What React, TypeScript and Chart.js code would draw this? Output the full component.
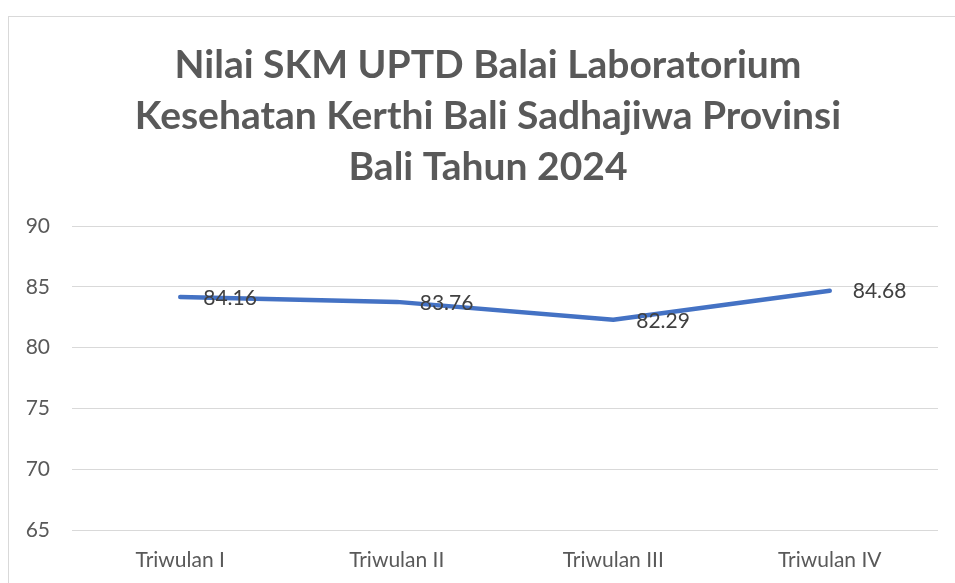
import React, { useEffect, useRef } from "react";
import { Chart, registerables } from "chart.js";

Chart.register(...registerables);

const titleLines = [
  "Nilai SKM UPTD Balai Laboratorium",
  "Kesehatan Kerthi Bali Sadhajiwa Provinsi",
  "Bali Tahun 2024",
];
const categories = ["Triwulan I", "Triwulan II", "Triwulan III", "Triwulan IV"];
const values = [84.16, 83.76, 82.29, 84.68];
const yMin = 65;
const yMax = 90;
const yStep = 5;

const FONT = "Lato, 'Open Sans', sans-serif";

const framePlugin = {
  id: "frame",
  beforeDraw(chart: any) {
    const ctx = chart.ctx;
    ctx.save();
    ctx.fillStyle = "#ffffff";
    ctx.fillRect(0, 0, chart.width, chart.height);
    ctx.strokeStyle = "#d9d9d9";
    ctx.lineWidth = 1;
    ctx.strokeRect(8.5, 16.5, chart.width + 20, chart.height + 20);
    ctx.fillStyle = "#595959";
    ctx.font = `bold 39px ${FONT}`;
    ctx.textAlign = "center";
    ctx.textBaseline = "alphabetic";
    const baselines = [78, 129, 180];
    titleLines.forEach((t, i) => ctx.fillText(t, 488, baselines[i]));
    ctx.restore();
  },
};

const labelPlugin = {
  id: "dataLabels",
  afterDatasetsDraw(chart: any) {
    const ctx = chart.ctx;
    const meta = chart.getDatasetMeta(0);
    ctx.save();
    ctx.fillStyle = "#404040";
    ctx.font = `21px ${FONT}`;
    ctx.textAlign = "left";
    ctx.textBaseline = "middle";
    meta.data.forEach((pt: any, i: number) => {
      ctx.fillText(values[i].toFixed(2), pt.x + 23, pt.y + 1);
    });
    ctx.restore();
  },
};

export default function App() {
  const ref = useRef<HTMLCanvasElement>(null);
  useEffect(() => {
    document.body.style.overflow = "hidden";
    const chart = new Chart(ref.current!, {
      type: "line",
      data: {
        labels: categories,
        datasets: [
          {
            data: values,
            borderColor: "#4472C4",
            borderWidth: 4.5,
            pointRadius: 0,
            borderCapStyle: "round",
            borderJoinStyle: "round",
            tension: 0,
          },
        ],
      },
      options: {
        animation: false,
        responsive: false,
        layout: { padding: { top: 226, left: 0, right: 17, bottom: 8 } },
        plugins: {
          legend: { display: false },
          title: { display: false },
          tooltip: { enabled: false },
        },
        scales: {
          x: {
            offset: true,
            grid: { display: false, drawTicks: false },
            border: { display: false },
            ticks: {
              color: "#595959",
              font: { family: FONT, size: 21 },
              padding: 18,
              maxRotation: 0,
            },
            afterFit(s: any) {
              s.height = 45;
            },
          },
          y: {
            min: yMin,
            max: yMax,
            grid: { color: "#d9d9d9", lineWidth: 1, drawTicks: false },
            border: { display: false },
            ticks: {
              stepSize: yStep,
              color: "#595959",
              font: { family: FONT, size: 21 },
              padding: 22,
            },
            afterFit(s: any) {
              s.width = 72;
            },
          },
        },
      },
      plugins: [framePlugin, labelPlugin],
    });
    return () => chart.destroy();
  }, []);
  return (
    <div style={{ position: "fixed", left: 0, top: 0, width: 955, height: 583 }}>
      <canvas ref={ref} width={955} height={583} />
    </div>
  );
}
